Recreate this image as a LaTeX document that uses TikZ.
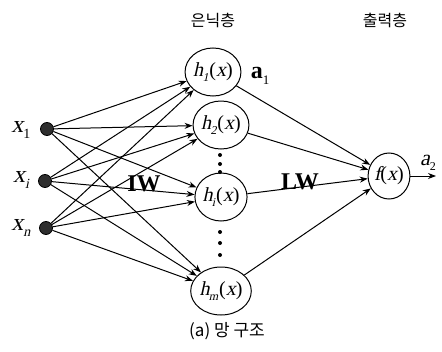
\documentclass[tikz,border=0pt]{standalone}
\usepackage{fontspec}
\setmainfont{Liberation Serif}[
  ItalicFont={Liberation Serif},
  ItalicFeatures={FakeSlant=0.22},
  BoldFont={Liberation Serif Bold}]
\newfontfamily\kr{Noto Sans CJK KR}
\usetikzlibrary{arrows.meta,shapes.geometric}
\newcommand{\hnode}[1]{\textit{h}\kern-0.03em\raisebox{-0.25em}{\fontsize{12}{12}\selectfont\textit{#1}}\kern0.04em(\textit{x})}
\begin{document}
\begin{tikzpicture}[x=1pt,y=-1pt,
  inp/.style={circle, fill=black!82, draw=black, line width=0.8pt, minimum size=13pt, inner sep=0pt},
  hid/.style={ellipse, draw, line width=1pt, minimum width=43pt, minimum height=48pt, inner sep=0pt,
              font=\fontsize{20}{20}\selectfont},
  con/.style={-{Stealth[length=8pt,width=6pt]}, line width=1pt},
  lab/.style={font=\fontsize{24}{24}\selectfont},
  wlab/.style={font=\fontsize{24}{24}\selectfont\bfseries},
  kor/.style={font=\kr\fontsize{16}{16}\selectfont},
  vdot/.style={circle, fill=black, minimum size=4pt, inner sep=0pt}]
\useasboundingbox (0,0) rectangle (442,351);

% inputs
\node[inp] (x1) at (47,129) {};
\node[inp] (xi) at (45,181) {};
\node[inp] (xn) at (46,228) {};
\node[lab] (lx1) at (21,130) {\textit{x}\raisebox{-0.25em}{\fontsize{14}{14}\selectfont 1}};
\node[lab] (lxi) at (21,180) {\textit{x}\raisebox{-0.25em}{\fontsize{14}{14}\selectfont\textit{i}}};
\node[lab] (lxn) at (21,228) {\textit{x}\raisebox{-0.25em}{\fontsize{14}{14}\selectfont\textit{n}}};

% hidden layer
\node[hid] (h1) at (213,72) {\hnode{1}};
\node[hid] (h2) at (221,125) {\hnode{2}};
\node[hid] (hi) at (221,197) {\hnode{i}};
\node[hid] (hm) at (221,291) {\hnode{m}};

% output
\node[hid, minimum width=40pt, minimum height=46pt] (f) at (389,176) {\textit{f}\kern-0.02em(\textit{x})};
\coordinate (out) at (436,176);

% vertical ellipses between hidden units
\node[vdot] (d1) at (220,155) {};
\node[vdot] (d2) at (220,164) {};
\node[vdot] (d3) at (220,172) {};
\node[vdot] (d4) at (220,232) {};
\node[vdot] (d5) at (220,243) {};
\node[vdot] (d6) at (220,255) {};

% input weights
\foreach \s in {x1,xi,xn}
  \foreach \t in {h1,h2,hi,hm}
    \draw[con] (\s) -- (\t);

% layer weights
\foreach \t in {h1,h2,hi,hm}
  \draw[con] (\t) -- (f);
\draw[con] (f) -- (out);

% labels
\node[wlab] (iw) at (144,184) {IW};
\node[wlab] (lw) at (300,182) {LW};
\node[font=\fontsize{24}{24}\selectfont\bfseries] (a1) at (260,76) {a\raisebox{-0.25em}{\fontsize{13}{13}\selectfont\mdseries 1}};
\node[font=\fontsize{22}{22}\selectfont] (a2) at (428,163) {\textit{a}\raisebox{-0.25em}{\fontsize{12}{12}\selectfont 2}};

\node[kor] (t1) at (213,20) {은닉층};
\node[kor] (t2) at (385,20) {출력층};
\node[kor, font=\kr\fontsize{17}{17}\selectfont] (cap) at (227,331) {(a) 망 구조};
\end{tikzpicture}
\end{document}
